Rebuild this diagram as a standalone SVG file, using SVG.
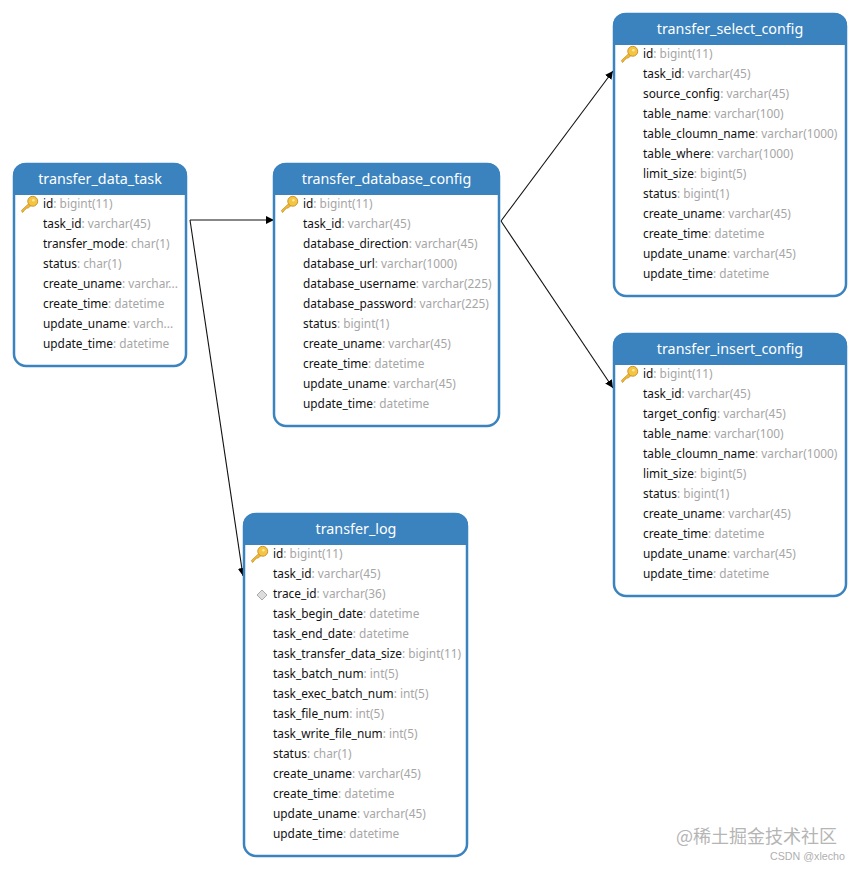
<svg xmlns="http://www.w3.org/2000/svg" width="860" height="870" viewBox="0 0 860 870">
<style>
text{font-family:"Noto Sans","Open Sans",sans-serif}
.box{fill:#fff;stroke:#3a83bf;stroke-width:2.5}
.hd{fill:#3a83bf}
.t{font-size:14.3px;fill:#fff;text-anchor:middle}
.r{font-size:11.87px;fill:#111}
.r tspan{fill:#a6a6a6}
.c{fill:none;stroke:#111;stroke-width:1.1;marker-end:url(#a)}
</style>
<defs>
<marker id="a" markerUnits="userSpaceOnUse" markerWidth="10" markerHeight="10" refX="8" refY="4" orient="auto"><path d="M0 0L8 4L0 8z" fill="#000"/></marker>
<g id="key"><g transform="translate(0.500 -0.500) scale(1.08)"><path d="M-6.5 7.5L-7.5 5.5L0 -1.5L2 0.5L-1.5 3.5L-2.5 3L-3.5 4.5L-4.500 4.500L-5 6z" fill="#f0b92e" stroke="#c9922a" stroke-width=".7"/><circle cx="3" cy="-3" r="4.6" fill="#f4c542" stroke="#c9922a" stroke-width=".9"/><circle cx="3.6" cy="-4" r="1.2" fill="#fbe9a0"/></g></g>
</defs>
<g id="connectors">
<path class="c" d="M190 220H274"/>
<path class="c" d="M190 220L243 576"/>
<path class="c" d="M501 221L613 71"/>
<path class="c" d="M501 221L613 388"/>
</g>
<g id="transfer_data_task">
<rect class="box" x="14" y="164" width="172" height="202" rx="12"/>
<path class="hd" d="M13 195V175a12 12 0 0 1 12-12H175a12 12 0 0 1 12 12V195z"/>
<text class="t" x="100" y="184">transfer_data_task</text>
<use href="#key" x="29" y="205"/>
<text class="r" x="43" y="208">id<tspan>: bigint(11)</tspan></text>
<text class="r" x="43" y="228">task_id<tspan>: varchar(45)</tspan></text>
<text class="r" x="43" y="248">transfer_mode<tspan>: char(1)</tspan></text>
<text class="r" x="43" y="268">status<tspan>: char(1)</tspan></text>
<text class="r" x="43" y="288">create_uname<tspan>: varchar...</tspan></text>
<text class="r" x="43" y="308">create_time<tspan>: datetime</tspan></text>
<text class="r" x="43" y="328">update_uname<tspan>: varch...</tspan></text>
<text class="r" x="43" y="348">update_time<tspan>: datetime</tspan></text>
</g>
<g id="transfer_database_config">
<rect class="box" x="274" y="164" width="225" height="262" rx="12"/>
<path class="hd" d="M273 195V175a12 12 0 0 1 12-12H488a12 12 0 0 1 12 12V195z"/>
<text class="t" x="386.500" y="184">transfer_database_config</text>
<use href="#key" x="289" y="205"/>
<text class="r" x="303" y="208">id<tspan>: bigint(11)</tspan></text>
<text class="r" x="303" y="228">task_id<tspan>: varchar(45)</tspan></text>
<text class="r" x="303" y="248">database_direction<tspan>: varchar(45)</tspan></text>
<text class="r" x="303" y="268">database_url<tspan>: varchar(1000)</tspan></text>
<text class="r" x="303" y="288">database_username<tspan>: varchar(225)</tspan></text>
<text class="r" x="303" y="308">database_password<tspan>: varchar(225)</tspan></text>
<text class="r" x="303" y="328">status<tspan>: bigint(1)</tspan></text>
<text class="r" x="303" y="348">create_uname<tspan>: varchar(45)</tspan></text>
<text class="r" x="303" y="368">create_time<tspan>: datetime</tspan></text>
<text class="r" x="303" y="388">update_uname<tspan>: varchar(45)</tspan></text>
<text class="r" x="303" y="408">update_time<tspan>: datetime</tspan></text>
</g>
<g id="transfer_select_config">
<rect class="box" x="614" y="14" width="232" height="282" rx="12"/>
<path class="hd" d="M613 45V25a12 12 0 0 1 12-12H835a12 12 0 0 1 12 12V45z"/>
<text class="t" x="730" y="34">transfer_select_config</text>
<use href="#key" x="629" y="55"/>
<text class="r" x="643" y="58">id<tspan>: bigint(11)</tspan></text>
<text class="r" x="643" y="78">task_id<tspan>: varchar(45)</tspan></text>
<text class="r" x="643" y="98">source_config<tspan>: varchar(45)</tspan></text>
<text class="r" x="643" y="118">table_name<tspan>: varchar(100)</tspan></text>
<text class="r" x="643" y="138">table_cloumn_name<tspan>: varchar(1000)</tspan></text>
<text class="r" x="643" y="158">table_where<tspan>: varchar(1000)</tspan></text>
<text class="r" x="643" y="178">limit_size<tspan>: bigint(5)</tspan></text>
<text class="r" x="643" y="198">status<tspan>: bigint(1)</tspan></text>
<text class="r" x="643" y="218">create_uname<tspan>: varchar(45)</tspan></text>
<text class="r" x="643" y="238">create_time<tspan>: datetime</tspan></text>
<text class="r" x="643" y="258">update_uname<tspan>: varchar(45)</tspan></text>
<text class="r" x="643" y="278">update_time<tspan>: datetime</tspan></text>
</g>
<g id="transfer_insert_config">
<rect class="box" x="614" y="334" width="232" height="262" rx="12"/>
<path class="hd" d="M613 365V345a12 12 0 0 1 12-12H835a12 12 0 0 1 12 12V365z"/>
<text class="t" x="730" y="354">transfer_insert_config</text>
<use href="#key" x="629" y="375"/>
<text class="r" x="643" y="378">id<tspan>: bigint(11)</tspan></text>
<text class="r" x="643" y="398">task_id<tspan>: varchar(45)</tspan></text>
<text class="r" x="643" y="418">target_config<tspan>: varchar(45)</tspan></text>
<text class="r" x="643" y="438">table_name<tspan>: varchar(100)</tspan></text>
<text class="r" x="643" y="458">table_cloumn_name<tspan>: varchar(1000)</tspan></text>
<text class="r" x="643" y="478">limit_size<tspan>: bigint(5)</tspan></text>
<text class="r" x="643" y="498">status<tspan>: bigint(1)</tspan></text>
<text class="r" x="643" y="518">create_uname<tspan>: varchar(45)</tspan></text>
<text class="r" x="643" y="538">create_time<tspan>: datetime</tspan></text>
<text class="r" x="643" y="558">update_uname<tspan>: varchar(45)</tspan></text>
<text class="r" x="643" y="578">update_time<tspan>: datetime</tspan></text>
</g>
<g id="transfer_log">
<rect class="box" x="244" y="514" width="223" height="342" rx="12"/>
<path class="hd" d="M243 545V525a12 12 0 0 1 12-12H456a12 12 0 0 1 12 12V545z"/>
<text class="t" x="356" y="534">transfer_log</text>
<use href="#key" x="259" y="555"/>
<path d="M262 590L267 595L262 600L257 595z" fill="#ddd" stroke="#aaa"/>
<text class="r" x="273" y="558">id<tspan>: bigint(11)</tspan></text>
<text class="r" x="273" y="578">task_id<tspan>: varchar(45)</tspan></text>
<text class="r" x="273" y="598">trace_id<tspan>: varchar(36)</tspan></text>
<text class="r" x="273" y="618">task_begin_date<tspan>: datetime</tspan></text>
<text class="r" x="273" y="638">task_end_date<tspan>: datetime</tspan></text>
<text class="r" x="273" y="658">task_transfer_data_size<tspan>: bigint(11)</tspan></text>
<text class="r" x="273" y="678">task_batch_num<tspan>: int(5)</tspan></text>
<text class="r" x="273" y="698">task_exec_batch_num<tspan>: int(5)</tspan></text>
<text class="r" x="273" y="718">task_file_num<tspan>: int(5)</tspan></text>
<text class="r" x="273" y="738">task_write_file_num<tspan>: int(5)</tspan></text>
<text class="r" x="273" y="758">status<tspan>: char(1)</tspan></text>
<text class="r" x="273" y="778">create_uname<tspan>: varchar(45)</tspan></text>
<text class="r" x="273" y="798">create_time<tspan>: datetime</tspan></text>
<text class="r" x="273" y="818">update_uname<tspan>: varchar(45)</tspan></text>
<text class="r" x="273" y="838">update_time<tspan>: datetime</tspan></text>
</g>
<text x="676" y="843" font-size="18" fill="#b5b5b5" style="font-family:'Noto Sans CJK SC','Noto Sans',sans-serif">@稀土掘金技术社区</text>
<text x="770" y="860" font-size="10.7" fill="#b0b0b0" style="font-family:'Liberation Sans',sans-serif">CSDN @xlecho</text>
</svg>
